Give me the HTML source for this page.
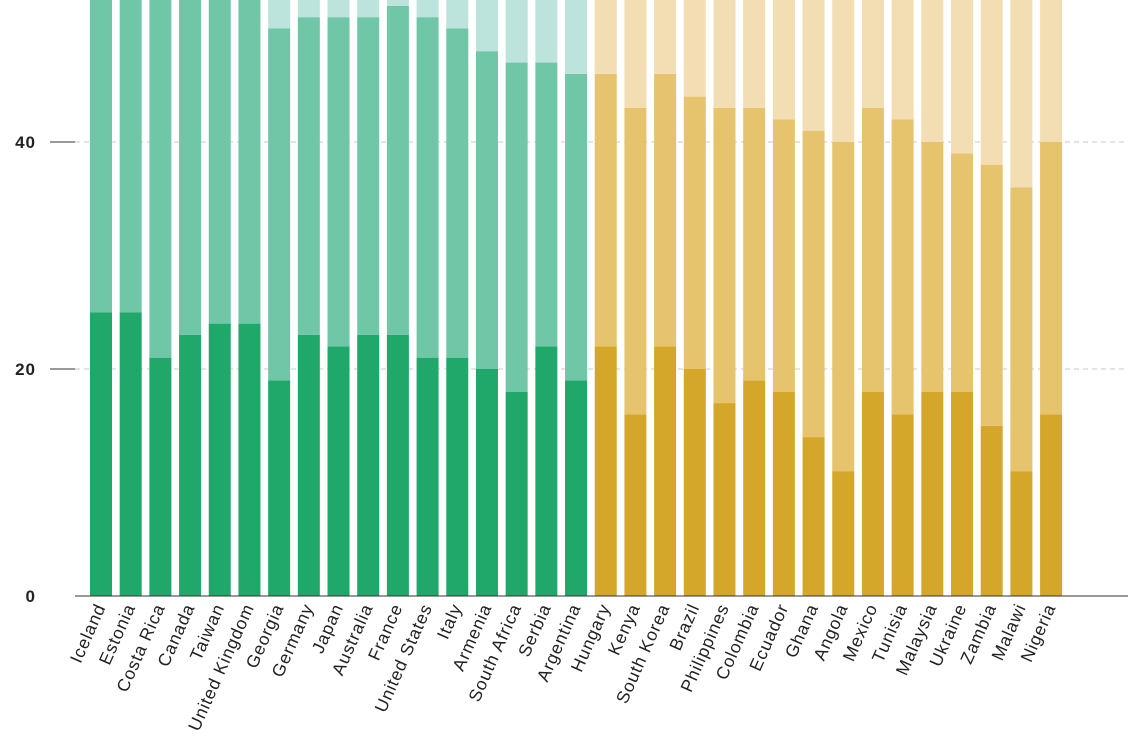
<!DOCTYPE html>
<html><head><meta charset="utf-8"><style>
html,body{margin:0;padding:0;background:#fff;}
svg{display:block;font-family:"Liberation Sans",sans-serif;}
</style></head><body>
<svg id="chart" width="1128" height="742" viewBox="0 0 1128 742"></svg>
<script>
const categories=["Iceland","Estonia","Costa Rica","Canada","Taiwan","United Kingdom","Georgia","Germany","Japan","Australia","France","United States","Italy","Armenia","South Africa","Serbia","Argentina","Hungary","Kenya","South Korea","Brazil","Philippines","Colombia","Ecuador","Ghana","Angola","Mexico","Tunisia","Malaysia","Ukraine","Zambia","Malawi","Nigeria"];
const darkValues=[25,25,21,23,24,24,19,23,22,23,23,21,21,20,18,22,19,22,16,22,20,17,19,18,14,11,18,16,18,18,15,11,16];
const midCumulative=[60,60,60,60,60,60,50,51,51,51,52,51,50,48,47,47,46,46,43,46,44,43,43,42,41,40,43,42,40,39,38,36,40];
const totalValues=[100,100,100,100,100,100,100,100,100,100,100,100,100,100,100,100,100,100,100,100,100,100,100,100,100,100,100,100,100,100,100,100,100];
const groups=["green","green","green","green","green","green","green","green","green","green","green","green","green","green","green","green","green","gold","gold","gold","gold","gold","gold","gold","gold","gold","gold","gold","gold","gold","gold","gold","gold"];
const yTicks=[0,20,40];
const NS="http://www.w3.org/2000/svg";
const svg=document.getElementById('chart');
const y0=596,pxPerUnit=11.35;
const y=v=>y0-v*pxPerUnit;
const x=i=>90+i*29.69;
const bw=22;
const colors={green:["#1fa86a","#6fc7a8","#bde3dd"],gold:["#d4a72b","#e6c36d","#f3ddb2"]};
function el(t,a){const e=document.createElementNS(NS,t);for(const k in a)e.setAttribute(k,a[k]);svg.appendChild(e);return e;}
yTicks.forEach(v=>{
  if(v>0){
    const g=el('line',{x1:75,x2:1128,y1:y(v),y2:y(v),stroke:"#c8c8c8","stroke-dasharray":"5,4","stroke-width":1});
    
    
    const t=el('line',{x1:50,x2:75,y1:y(v),y2:y(v),stroke:"#333","stroke-width":1});
    
    
  }
  const l=el('text',{x:36,y:y(v)+6,"text-anchor":"end","font-size":17,"font-weight":"bold",fill:"#222","letter-spacing":1});
  l.textContent=v;
  
  
});
categories.forEach((c,i)=>{
  const col=colors[groups[i]];
  const segs=[[0,darkValues[i]],[darkValues[i],midCumulative[i]],[midCumulative[i],totalValues[i]]];
  const names=['dark','mid','light'];
  segs.forEach((s,j)=>{
    const top=Math.max(y(s[1]),0);const bot=y(s[0]);
    const r=el('rect',{x:x(i),y:top,width:bw,height:Math.max(bot-top,0),fill:col[j]});
    
    
  });
  const cx=x(i)+bw/2+5;
  const t=el('text',{x:cx,y:607,"text-anchor":"end","font-size":17.5,"letter-spacing":0.9,fill:"#222",transform:`rotate(-66 ${cx} 607)`});
  t.textContent=c;
  
  
});
const base=el('line',{x1:75,x2:1128,y1:y0,y2:y0,stroke:"#333","stroke-width":1});


</script>
</body></html>
